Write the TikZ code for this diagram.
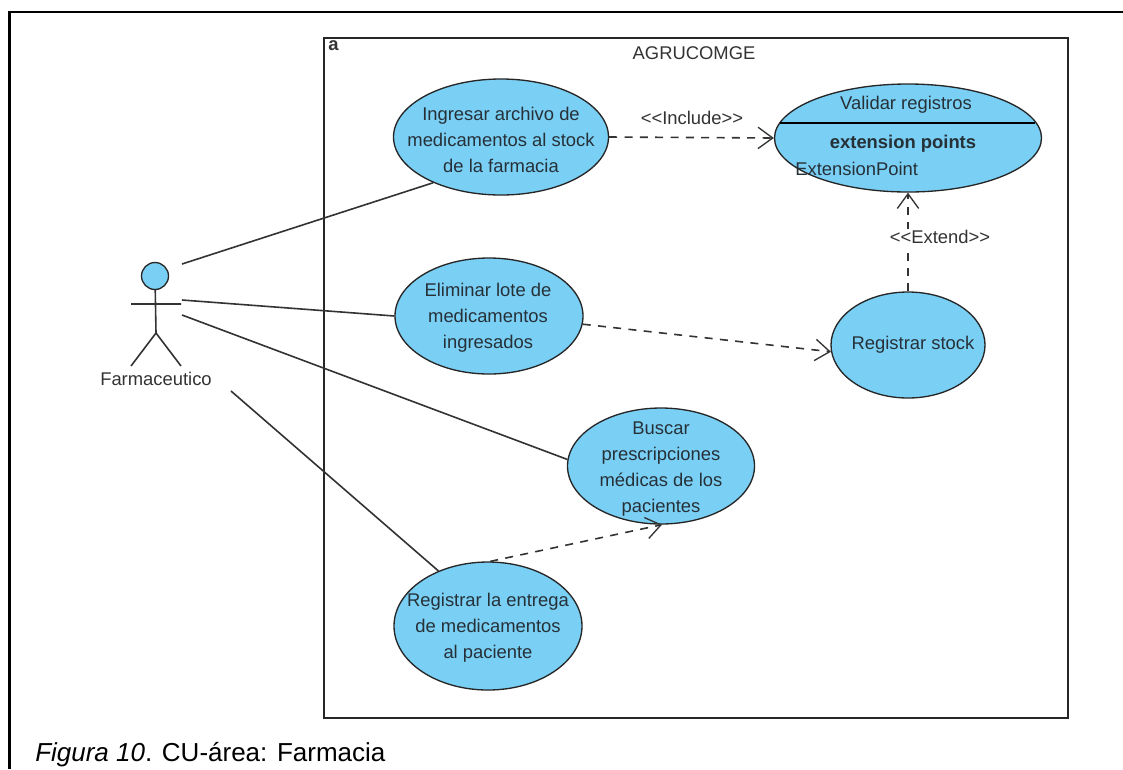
\documentclass[tikz,border=0pt]{standalone}
\usepackage{fontspec}
\setmainfont{Liberation Sans}
\usetikzlibrary{shapes.geometric,arrows.meta}
\definecolor{ucblue}{RGB}{122,207,245}
\definecolor{uctext}{RGB}{38,48,55}
\tikzset{
  usecase/.style={ellipse, draw=black!85, fill=ucblue, line width=1pt, inner sep=0pt},
  uctitle/.style={text=uctext, align=center, inner sep=0pt, font=\fontsize{13.8}{19.5}\selectfont},
  uclabel/.style={text=black!80, inner sep=0pt, font=\fontsize{13.8}{16}\selectfont},
  assoc/.style={draw=black!80, line width=1.2pt},
  depend/.style={draw=black!80, line width=1.2pt, dash pattern=on 6pt off 5.5pt, -{Straight Barb[length=11pt,width=16pt,line width=1pt]}},
}
\begin{document}
\begin{tikzpicture}[x=0.75pt,y=-0.75pt]
  \useasboundingbox (0,0) rectangle (1123,769);
  \fill[white] (0,0) rectangle (1123,769);
  % outer frame
  \draw[line width=1.9pt] (9.5,769) -- (9.5,12) -- (1123,12);
  \node[anchor=base west, inner sep=0pt, font=\fontsize{19.5}{22}\selectfont] (caption) at (35,761) {\textit{Figura 10}. CU-área: Farmacia};
  % system boundary
  \node[draw=black!85, line width=1.3pt, minimum width=744*0.75pt, minimum height=680*0.75pt, inner sep=0pt] (sys) at (696,378) {};
  \node[anchor=north west, inner sep=0pt, font=\fontsize{13.8}{16}\selectfont\bfseries, text=black!80] (sysa) at (328,40) {a};
  \node[uclabel] (systitle) at (694,53) {AGRUCOMGE};
  % use cases
  \node[usecase, minimum width=215*0.75pt, minimum height=116*0.75pt] (ingresar) at (501,137) {};
  \node[uctitle] (ingresart) at (501,140) {Ingresar archivo de\\medicamentos al stock\\de la farmacia};
  \node[usecase, minimum width=267*0.75pt, minimum height=108*0.75pt] (validar) at (908,138) {};
  \draw[black, line width=1pt] (780,123) -- (1035,123);
  \node[uctitle] (validart) at (906,105) {Validar registros};
  \node[uctitle, font=\fontsize{13.8}{16}\selectfont\bfseries] (extt) at (903,144) {extension points};
  \node[uctitle, anchor=west] (extp) at (795,169) {ExtensionPoint};
  \node[usecase, minimum width=188*0.75pt, minimum height=116*0.75pt] (eliminar) at (489,316) {};
  \node[uctitle] (eliminart) at (488,318) {Eliminar lote de\\medicamentos\\ingresados};
  \node[usecase, minimum width=154*0.75pt, minimum height=106*0.75pt] (stock) at (908,345) {};
  \node[uctitle] (stockt) at (913,345) {Registrar stock};
  \node[usecase, minimum width=187*0.75pt, minimum height=116*0.75pt] (buscar) at (661,466) {};
  \node[uctitle] (buscart) at (661,469) {Buscar\\prescripciones\\médicas de los\\pacientes};
  \node[usecase, minimum width=188*0.75pt, minimum height=128*0.75pt] (entrega) at (488,626) {};
  \node[uctitle] (entregat) at (488,628) {Registrar la entrega\\de medicamentos\\al paciente};
  % actor
  \node[circle, draw=black!85, fill=ucblue, line width=1pt, minimum size=27*0.75pt, inner sep=0pt] (head) at (155,276) {};
  \coordinate (hip) at (156,333);
  \coordinate (armL) at (131,304);
  \coordinate (armR) at (181,304);
  \coordinate (footL) at (131,366);
  \coordinate (footR) at (181,366);
  \draw[assoc] (head) -- (hip) (armL) -- (armR) (footL) -- (hip) -- (footR);
  \node[uclabel] (actor) at (156,379) {Farmaceutico};
  % associations
  \coordinate (a1) at (182,264);
  \coordinate (a2) at (182,300);
  \coordinate (a3) at (182,315);
  \coordinate (a4) at (231,391);
  \draw[assoc] (a1) -- (ingresar.214);
  \draw[assoc] (a2) -- (eliminar.west);
  \draw[assoc] (a3) -- (buscar.176);
  \draw[assoc] (a4) -- (entrega.132);
  % dependencies
  \draw[depend] (ingresar.east) -- (validar.west);
  \node[uclabel] (inc) at (692,118) {<{}<Include>{}>};
  \draw[depend] (eliminar.-5.5) -- (stock.185);
  \draw[depend] (stock.north) -- (validar.south);
  \node[uclabel, fill=white, inner sep=1pt] (ext) at (940,237) {<{}<Extend>{}>};
  \draw[depend] (entrega.88) -- (buscar.271);
\end{tikzpicture}
\end{document}
